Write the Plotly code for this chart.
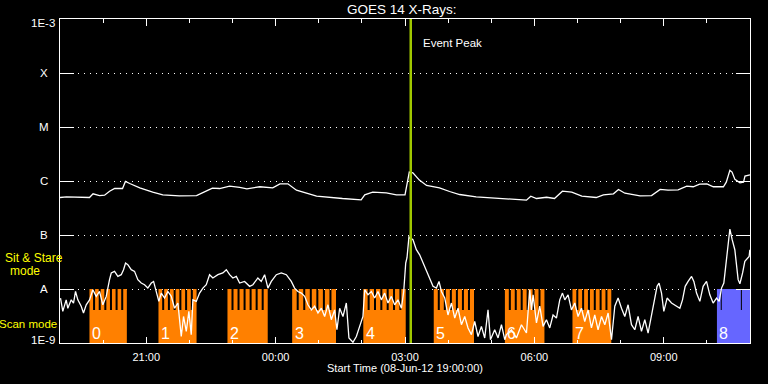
import math
import pandas as pd
import plotly.graph_objects as go

START = pd.Timestamp("2012-06-08 19:00:00")
END = pd.Timestamp("2012-06-09 11:00:00")
event_peak = "2012-06-09 03:08:00"

# ---- GOES long channel (1-8 A), minutes after start / flux W m^-2
long_t = [0, 9, 41, 46, 55, 62, 69, 76, 87, 91,
          97, 111, 129, 143, 166, 190, 198, 212, 222, 236,
          250, 260, 278, 296, 306, 317, 329, 357, 393, 419,
          424, 435, 454, 468, 480, 483, 486, 491, 500, 510,
          528, 542, 556, 579, 603, 626, 635, 649, 655, 663,
          677, 688, 699, 712, 726, 746, 756, 770, 777, 786,
          807, 823, 835, 846, 860, 872, 881, 890, 900, 909,
          923, 927, 932, 935, 939, 946, 951, 953, 960]
long_flux = [4.95e-7, 5.09e-7, 4.95e-7, 5.79e-7, 5.38e-7, 5.45e-7, 6.47e-7, 7.26e-7, 7.26e-7, 9.79e-7,
             8.99e-7, 7.48e-7, 6.21e-7, 5.55e-7, 5.32e-7, 5.38e-7, 6.04e-7, 7.36e-7, 7.26e-7, 8.02e-7,
             7.59e-7, 7.18e-7, 7.82e-7, 7.48e-7, 8.87e-7, 8.87e-7, 6.76e-7, 5.24e-7, 4.74e-7, 4.49e-7,
             5.55e-7, 6.21e-7, 6.04e-7, 5.55e-7, 5.55e-7, 9.27e-7, 1.46e-6, 1.42e-6, 1.04e-6, 8.26e-7,
             7.48e-7, 6.39e-7, 5.62e-7, 5.09e-7, 4.89e-7, 4.68e-7, 4.54e-7, 4.41e-7, 5.24e-7, 4.74e-7,
             5.0e-7, 4.74e-7, 6.47e-7, 6.21e-7, 5.24e-7, 4.95e-7, 5.55e-7, 5.79e-7, 6.97e-7, 5.94e-7,
             5.32e-7, 5.38e-7, 6.97e-7, 6.76e-7, 6.87e-7, 8.02e-7, 7.82e-7, 8.73e-7, 8.87e-7, 7.82e-7,
             7.82e-7, 9.51e-7, 1.58e-6, 1.46e-6, 1.07e-6, 9.27e-7, 9.51e-7, 1.23e-6, 1.30e-6]

# ---- GOES short channel (0.5-4 A)
short_t = [0.7, 3.9, 8.6, 10.9, 15.6, 18.8, 21.6, 24.8, 29.5, 32.7,
           36.5, 41.1, 45.7, 50.4, 55.0, 59.6, 64.3, 66.5, 68.9, 71.3,
           75.9, 80.5, 85.2, 88.4, 91.2, 94.4, 99.1, 103.7, 108.3, 113,
           117.6, 122.2, 127, 130.2, 133.9, 137.5, 140.9, 145.5, 150.1, 154.8,
           159.4, 164, 168.7, 171.9, 175.7, 179.3, 182.6, 184.9, 189.6, 194.2,
           198.8, 203.5, 208.1, 212.7, 219.7, 226.6, 231.4, 236, 240.5, 245.3,
           249.9, 256.8, 263.8, 268.4, 275.3, 280, 284.7, 289.3, 294, 301,
           307.9, 314.9, 321.8, 326.4, 331, 335.8, 340.4, 345, 349.7, 354.3,
           358.9, 363.6, 368.2, 372.8, 377.5, 382.1, 385.3, 389.1, 393.7, 398.4,
           402, 407.6, 412.3, 416.9, 421.5, 423.9, 428.5, 433.2, 437.8, 442.4,
           447.1, 451.7, 456.3, 461, 465.6, 470.2, 475, 478.2, 481, 482.8,
           485.5, 491.1, 495.8, 500.4, 505, 509.8, 514.4, 519, 523.7, 527.3,
           530.7, 535.3, 539.8, 544.6, 549.2, 553.8, 558.5, 563.1, 567.7, 572.4,
           577, 581.6, 586.3, 590.9, 595.5, 598.9, 604.8, 609.5, 614.2, 618.8,
           621.1, 628.1, 635, 642, 649, 653.6, 655.9, 658.2, 662.9, 667.5,
           672.1, 676.8, 681.4, 686, 690.7, 695.3, 699.1, 702.3, 706.9, 711.6,
           716.2, 720.8, 725.5, 730.1, 734.7, 739.4, 744, 748.6, 753.4, 758,
           762.6, 767.3, 771.9, 776.5, 781.2, 785.8, 790.4, 795.1, 799.7, 804.3,
           809, 813.6, 818.2, 823, 827.6, 830.7, 833.5, 836.9, 840.1, 844.7,
           850.8, 857.8, 862.4, 866.1, 869.8, 873.9, 878.7, 881.9, 885.6, 890.2,
           894.8, 899.5, 904.1, 908.7, 913.5, 917.1, 920.4, 923.6, 926.4, 929.2,
           932, 935.2, 938.9, 943.5, 945.9, 949.7, 952.8, 958.8, 959.8]
short_flux = [6.8e-9, 3.85e-9, 6.3e-9, 4.4e-9, 6.3e-9, 5.5e-9, 9.0e-9, 6.3e-9, 4.8e-9, 3.6e-9,
              5.1e-9, 6.3e-9, 9.7e-9, 7.3e-9, 9.0e-9, 5.1e-9, 7.3e-9, 1.12e-8, 1.49e-8, 1.98e-8,
              2.12e-8, 1.71e-8, 1.84e-8, 2.28e-8, 3.03e-8, 2.82e-8, 2.28e-8, 2.12e-8, 1.49e-8, 1.29e-8,
              1.20e-8, 1.04e-8, 1.29e-8, 1.38e-8, 8.4e-9, 5.9e-9, 8.4e-9, 6.8e-9, 9.0e-9, 7.3e-9,
              4.4e-9, 5.5e-9, 1.32e-9, 3.1e-9, 1.64e-9, 3.85e-9, 1.43e-9, 6.3e-9, 5.9e-9, 8.4e-9,
              1.04e-8, 1.20e-8, 1.84e-8, 1.60e-8, 1.84e-8, 1.98e-8, 2.28e-8, 1.84e-8, 1.60e-8, 1.71e-8,
              1.29e-8, 1.38e-8, 1.12e-8, 1.20e-8, 1.60e-8, 1.38e-8, 1.84e-8, 1.04e-8, 1.38e-8, 1.84e-8,
              1.98e-8, 1.84e-8, 1.38e-8, 1.04e-8, 9.0e-9, 8.4e-9, 7.3e-9, 5.1e-9, 4.1e-9, 4.8e-9,
              3.6e-9, 4.4e-9, 3.1e-9, 5.1e-9, 2.7e-9, 4.1e-9, 1.76e-9, 4.4e-9, 3.1e-9, 5.5e-9,
              1.24e-9, 1.03e-9, 1.32e-9, 2.03e-9, 3.1e-9, 9.7e-9, 7.8e-9, 9.0e-9, 6.8e-9, 9.0e-9,
              6.3e-9, 8.4e-9, 5.5e-9, 7.3e-9, 5.1e-9, 6.3e-9, 4.4e-9, 9.0e-9, 3.03e-8, 3.8e-8,
              9.18e-8, 8.18e-8, 5.34e-8, 4.3e-8, 3.03e-8, 2.12e-8, 1.60e-8, 1.12e-8, 1.04e-8, 1.38e-8,
              9.0e-9, 6.8e-9, 3.3e-9, 5.5e-9, 2.9e-9, 4.4e-9, 2.18e-9, 3.1e-9, 1.9e-9, 1.43e-9,
              2.5e-9, 1.32e-9, 2.03e-9, 1.24e-9, 4.1e-9, 1.15e-9, 1.76e-9, 1.24e-9, 2.18e-9, 1.15e-9,
              1.43e-9, 1.76e-9, 1.24e-9, 2.18e-9, 1.53e-9, 9.7e-9, 4.1e-9, 7.8e-9, 2.35e-9, 4.8e-9,
              2.03e-9, 2.7e-9, 1.9e-9, 3.3e-9, 2.9e-9, 6.3e-9, 8.4e-9, 6.3e-9, 7.8e-9, 4.1e-9,
              5.5e-9, 3.1e-9, 4.4e-9, 2.5e-9, 4.1e-9, 1.9e-9, 3.3e-9, 1.76e-9, 3.1e-9, 2.18e-9,
              3.6e-9, 1.15e-9, 4.8e-9, 6.8e-9, 4.4e-9, 3.1e-9, 5.1e-9, 2.18e-9, 1.76e-9, 3.1e-9,
              1.64e-9, 2.7e-9, 1.53e-9, 3.1e-9, 6.3e-9, 1.12e-8, 1.29e-8, 8.4e-9, 3.85e-9, 6.8e-9,
              5.5e-9, 4.8e-9, 4.4e-9, 6.3e-9, 1.12e-8, 1.38e-8, 1.71e-8, 1.38e-8, 8.4e-9, 5.9e-9,
              1.12e-8, 1.38e-8, 7.8e-9, 5.5e-9, 6.8e-9, 5.9e-9, 1.04e-8, 1.29e-8, 2.62e-8, 5.34e-8,
              1.29e-7, 8.18e-8, 5.34e-8, 1.49e-8, 1.25e-8, 1.98e-8, 3.25e-8, 4.02e-8, 5.34e-8]

# ---- observing-mode blocks (minutes after start)
scan_labels = ["0", "1", "2", "3", "4", "5", "6", "7"]
scan_start = [41, 137, 233, 323, 422, 520, 619, 713]
scan_end = [93, 190, 289, 384, 481, 576, 674, 767]
scan_teeth = 7
scan_slit = 2.8
stare_label = "8"
stare_start = 914
stare_end = 960
stare_gaps = [920, 948]

MODE_LOW = 1e-9
MODE_SCAN = 4.1e-9
MODE_STARE = 1e-8

ylabels = ["1E-3", "X", "M", "C", "B", "A", "1E-9"]
ylabel_vals = [1e-3, 1e-4, 1e-5, 1e-6, 1e-7, 1e-8, 1e-9]


def ts(m):
    return (START + pd.to_timedelta(m, unit="min")).strftime("%Y-%m-%d %H:%M:%S")


def block_polygon(s, e, teeth):
    pts = [(s, MODE_LOW)]
    for a, b in teeth:
        pts += [(a, MODE_SCAN), (a, MODE_STARE), (b, MODE_STARE), (b, MODE_SCAN)]
    pts += [(e, MODE_LOW), (s, MODE_LOW)]
    return pts


orange_x, orange_y = [], []
for s, e in zip(scan_start, scan_end):
    P = (e - s + scan_slit) / scan_teeth
    teeth = [(s + i * P, s + i * P + P - scan_slit) for i in range(scan_teeth)]
    for m, v in block_polygon(s, e, teeth):
        orange_x.append(ts(m))
        orange_y.append(v)
    orange_x.append(None)
    orange_y.append(None)

edges = [stare_start] + [g for g in stare_gaps for _ in (0, 1)] + [stare_end]
blue_teeth = []
for i in range(0, len(edges), 2):
    a = edges[i] + (0.7 if i > 0 else 0)
    b = edges[i + 1] - (0.7 if i + 1 < len(edges) - 1 else 0)
    blue_teeth.append((a, b))
blue_x, blue_y = [], []
for m, v in block_polygon(stare_start, stare_end, blue_teeth):
    blue_x.append(ts(m))
    blue_y.append(v)

fig = go.Figure()
fig.add_trace(go.Scatter(x=orange_x, y=orange_y, mode="lines", fill="toself",
                         fillcolor="#ff8000", line=dict(width=0), hoverinfo="skip"))
fig.add_trace(go.Scatter(x=blue_x, y=blue_y, mode="lines", fill="toself",
                         fillcolor="#6666ff", line=dict(width=0), hoverinfo="skip"))
fig.add_trace(go.Scatter(x=[ts(m) for m in long_t], y=long_flux, mode="lines",
                         line=dict(color="white", width=1.3)))
fig.add_trace(go.Scatter(x=[ts(m) for m in short_t], y=short_flux, mode="lines",
                         line=dict(color="white", width=1.3)))

fig.add_vline(x=event_peak, line_color="#a0c800", line_width=2.5)

FONT = "Liberation Sans"
ann = []
for lab, v in zip(ylabels, ylabel_vals):
    if lab.startswith("1E"):
        ann.append(dict(x=0, xref="paper", y=math.log10(v), yref="y", text=lab,
                        xanchor="right", xshift=-3, yshift=(-3.5 if v > 1e-6 else 3),
                        showarrow=False, font=dict(color="white", size=11.5, family=FONT)))
    else:
        ann.append(dict(x=0, xref="paper", y=math.log10(v), yref="y", text=lab,
                        xanchor="center", xshift=-16, showarrow=False,
                        font=dict(color="white", size=11.5, family=FONT)))

for lab, s in zip(scan_labels + [stare_label], scan_start + [stare_start]):
    ann.append(dict(x=ts(s), y=math.log10(1.52e-9), xref="x", yref="y", text=lab,
                    xanchor="left", xshift=0.5, showarrow=False,
                    font=dict(color="white", size=16, family=FONT)))

ann.append(dict(x=event_peak, xref="x", y=1, yref="paper", yshift=-23.5, xshift=10,
                text="Event Peak", xanchor="left", yanchor="middle", showarrow=False,
                font=dict(color="white", size=11.5, family=FONT)))
ann.append(dict(x=0.5, xref="paper", y=1, yref="paper", yshift=9.5, xshift=-3,
                text="GOES 14 X-Rays:", yanchor="middle", showarrow=False,
                font=dict(color="white", size=13.5, family=FONT)))
ann.append(dict(x=0.5, xref="paper", y=0, yref="paper", yshift=-25,
                text="Start Time (08-Jun-12 19:00:00)", yanchor="middle", showarrow=False,
                font=dict(color="white", size=11, family=FONT)))
ann.append(dict(x=0, xref="paper", y=0, yref="paper", yshift=84.8, xshift=-26,
                text="Sit & Stare", xanchor="center", yanchor="middle", showarrow=False,
                font=dict(color="#ffff00", size=12, family=FONT)))
ann.append(dict(x=0, xref="paper", y=0, yref="paper", yshift=71.6, xshift=-35.5,
                text="mode", xanchor="center", yanchor="middle", showarrow=False,
                font=dict(color="#ffff00", size=12, family=FONT)))
ann.append(dict(x=0, xref="paper", y=0, yref="paper", yshift=19.3, xshift=-31.7,
                text="Scan mode", xanchor="center", yanchor="middle", showarrow=False,
                font=dict(color="#ffff00", size=11.5, family=FONT)))

fig.update_layout(
    width=768, height=384,
    margin=dict(l=60, r=18, t=19, b=41, autoexpand=False),
    paper_bgcolor="black", plot_bgcolor="black",
    showlegend=False,
    annotations=ann,
    xaxis=dict(type="date", range=[START.strftime("%Y-%m-%d %H:%M:%S"), END.strftime("%Y-%m-%d %H:%M:%S")],
               tickformat="%H:%M", dtick=3 * 3600000, tick0="2012-06-08 00:00:00",
               ticks="inside", ticklen=6.5, tickwidth=1, tickcolor="white",
               minor=dict(dtick=3600000, ticks="inside", ticklen=3.5, tickcolor="white", showgrid=False),
               showline=True, linecolor="white", linewidth=1, mirror="ticks",
               showgrid=False, zeroline=False, ticklabelstandoff=4,
               tickfont=dict(color="white", size=11, family=FONT)),
    yaxis=dict(type="log", range=[-9, -3], dtick=1, showticklabels=False,
               ticks="inside", ticklen=14, tickwidth=1, tickcolor="white",
               showline=True, linecolor="white", linewidth=1, mirror="ticks",
               showgrid=True, gridcolor="white", gridwidth=1, griddash="1px,5px",
               zeroline=False),
)

fig.write_html("out.html", config={"displayModeBar": False},
               post_script="document.body.style.margin='0px';document.body.style.background='black';")
